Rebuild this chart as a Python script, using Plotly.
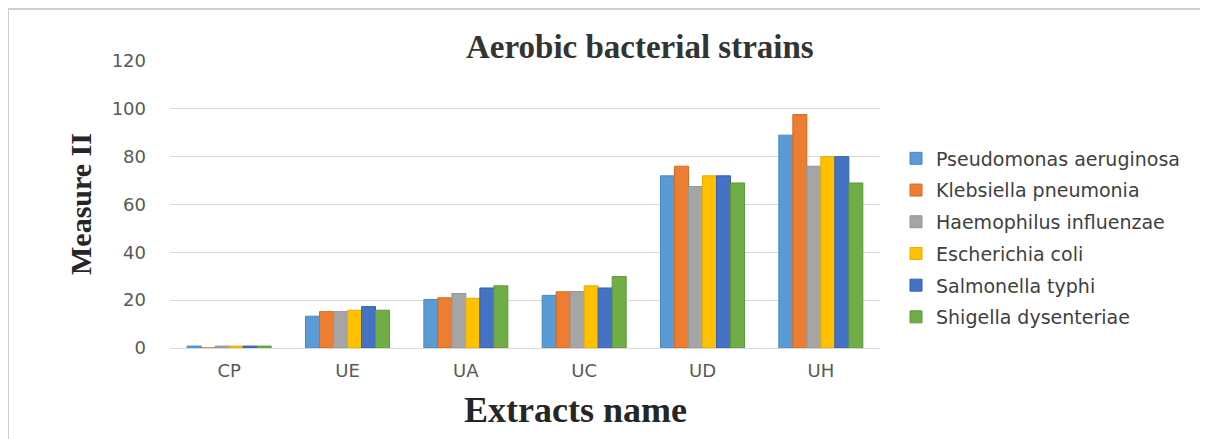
import plotly.graph_objects as go

categories = ["CP", "UE", "UA", "UC", "UD", "UH"]
series_names = ["Pseudomonas aeruginosa", "Klebsiella pneumonia", "Haemophilus influenzae",
                "Escherichia coli", "Salmonella typhi", "Shigella dysenteriae"]
pseudomonas = [0.8, 13.3, 20.3, 22.0, 72.0, 89.0]
klebsiella = [0.0, 15.2, 21.0, 23.5, 76.0, 97.6]
haemophilus = [0.8, 15.2, 22.8, 23.6, 67.5, 76.0]
escherichia = [0.8, 15.8, 20.8, 26.0, 72.0, 80.0]
salmonella = [0.8, 17.3, 25.1, 25.1, 72.0, 80.0]
shigella = [0.8, 15.8, 26.0, 29.9, 69.0, 69.0]
series_values = [pseudomonas, klebsiella, haemophilus, escherichia, salmonella, shigella]
colors = ["#5B9BD5", "#ED7D31", "#A5A5A5", "#FFC000", "#4472C4", "#70AD47"]
edge_colors = ["#4A8AC4", "#D46A20", "#959595", "#E6AD00", "#3360B0", "#5F9A3A"]
y_ticks = [0, 20, 40, 60, 80, 100, 120]

# plot area in figure pixels (page is offset by 8px body margin)
L, R, T, B = 162, 872, 53, 340
W, H = 1208, 439


def px(xf):
    return (xf - L) / (R - L)


def py(yf):
    return 1 - (yf - T) / (B - T)


fig = go.Figure()
for name, vals, c, e in zip(series_names, series_values, colors, edge_colors):
    fig.add_trace(go.Bar(x=categories, y=vals, name=name, legendgroup=name,
                         marker=dict(color=c, line=dict(color=e, width=1))))

fig.update_layout(
    width=W, height=H,
    margin=dict(l=L, r=W - R, t=T, b=H - B),
    paper_bgcolor="white", plot_bgcolor="white",
    barmode="group", bargap=0.29, bargroupgap=0,
    showlegend=True,
    legend=dict(x=px(888), y=py(230), xanchor="left", yanchor="middle",
                font=dict(family="DejaVu Sans", size=19, color="#404040"),
                tracegroupgap=4, bgcolor="rgba(0,0,0,0)"),
    xaxis=dict(showgrid=False, showline=True, linecolor="#D9D9D9", linewidth=1,
               ticks="", ticklabelstandoff=6,
               tickfont=dict(family="DejaVu Sans", size=18, color="#595959")),
    yaxis=dict(range=[0, 120], tickvals=y_ticks, showgrid=True, gridcolor="#D9D9D9",
               gridwidth=1, zeroline=False, showline=False, ticks="",
               ticklabelstandoff=23,
               tickfont=dict(family="DejaVu Sans", size=18, color="#595959")),
)

fig.add_annotation(text="<b>Aerobic bacterial strains</b>", xref="paper", yref="paper",
                   x=px(632), y=py(39), xanchor="center", yanchor="middle",
                   showarrow=False, font=dict(family="Liberation Serif", size=33, color="#333333"))
fig.add_annotation(text="<b>Extracts name</b>", xref="paper", yref="paper",
                   x=px(567), y=py(402), xanchor="center", yanchor="middle",
                   showarrow=False, font=dict(family="Liberation Serif", size=36, color="#262626"))
fig.add_annotation(text="<b>Measure II</b>", xref="paper", yref="paper",
                   x=px(72), y=py(196), xanchor="center", yanchor="middle", textangle=-90,
                   showarrow=False, font=dict(family="Liberation Serif", size=30, color="#262626"))

# chart frame (top and left edges visible)
fig.add_shape(type="line", xref="paper", yref="paper",
              x0=px(0), x1=px(W), y0=py(1), y1=py(1),
              line=dict(color="#D0D0D0", width=2))
fig.add_shape(type="line", xref="paper", yref="paper",
              x0=px(0), x1=px(0), y0=py(1), y1=py(H),
              line=dict(color="#D0D0D0", width=2))

fig.write_html("out.html")
